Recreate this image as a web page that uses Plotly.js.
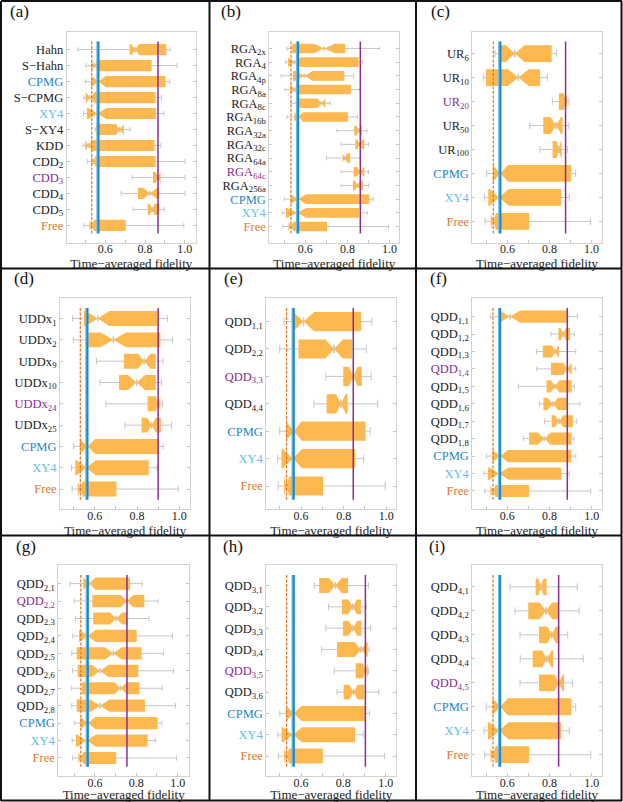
<!DOCTYPE html>
<html>
<head>
<meta charset="utf-8">
<script src="https://cdn.plot.ly/plotly-3.0.1.min.js"></script>
<style>html,body{margin:0;padding:0;background:#fff;}#chart{width:623px;height:802px;}</style>
</head>
<body>
<div id="chart"></div>
<script>
// ---------------- data ----------------
// panel (a)
const catsA = ['Hahn','S−Hahn','CPMG','S−CPMG','XY4','S−XY4','KDD','CDD<sub>2</sub>','CDD<sub>3</sub>','CDD<sub>4</sub>','CDD<sub>5</sub>','Free'];
const loA    = [0.462,0.503,0.500,0.491,0.490,0.550,0.488,0.510,0.735,0.680,0.740,0.493];
const q1A    = [0.723,0.530,0.530,0.501,0.508,0.555,0.499,0.530,0.840,0.764,0.814,0.520];
const medA   = [0.750,0.546,0.566,0.524,0.560,0.673,0.516,0.541,0.865,0.825,0.836,0.532];
const q3A    = [0.907,0.833,0.903,0.853,0.855,0.693,0.848,0.853,0.878,0.871,0.870,0.703];
const hiA    = [0.926,0.960,0.924,0.882,0.894,0.724,0.879,1.000,1.000,1.000,0.896,0.995];
const notchA = [0.020,0.016,0.036,0.023,0.045,0.020,0.017,0.011,0.012,0.035,0.012,0.012];
// panel (b)
const catsB = ['RGA<sub>2x</sub>','RGA<sub>4</sub>','RGA<sub>4p</sub>','RGA<sub>8a</sub>','RGA<sub>8c</sub>','RGA<sub>16b</sub>','RGA<sub>32a</sub>','RGA<sub>32c</sub>','RGA<sub>64a</sub>','RGA<sub>64c</sub>','RGA<sub>256a</sub>','CPMG','XY4','Free'];
const loB    = [0.513,0.507,0.485,0.504,0.532,0.513,0.750,0.770,0.700,0.770,0.770,0.500,0.490,0.493];
const q1B    = [0.537,0.518,0.541,0.529,0.555,0.548,0.832,0.837,0.777,0.829,0.826,0.530,0.508,0.520];
const medB   = [0.690,0.548,0.595,0.550,0.676,0.568,0.853,0.858,0.788,0.861,0.848,0.566,0.560,0.532];
const q3B    = [0.789,0.853,0.785,0.816,0.695,0.802,0.869,0.880,0.813,0.880,0.874,0.903,0.855,0.703];
const hiB    = [0.952,0.872,0.829,0.856,0.718,0.848,0.892,0.900,0.860,0.900,0.900,0.924,0.894,0.995];
const notchB = [0.050,0.030,0.040,0.021,0.019,0.020,0.010,0.012,0.011,0.015,0.012,0.036,0.045,0.012];
// panel (c)
const catsC = ['UR<sub>6</sub>','UR<sub>10</sub>','UR<sub>20</sub>','UR<sub>50</sub>','UR<sub>100</sub>','CPMG','XY4','Free'];
const loC    = [0.540,0.484,0.813,0.706,0.754,0.500,0.490,0.493];
const q1C    = [0.556,0.497,0.844,0.770,0.814,0.530,0.508,0.520];
const medC   = [0.635,0.651,0.876,0.830,0.844,0.566,0.560,0.532];
const q3C    = [0.810,0.754,0.884,0.862,0.857,0.903,0.855,0.703];
const hiC    = [0.833,0.789,0.892,0.892,0.886,0.924,0.894,0.995];
const notchC = [0.045,0.050,0.008,0.025,0.010,0.036,0.045,0.012];
// panel (d)
const catsD = ['UDDx<sub>1</sub>','UDDx<sub>2</sub>','UDDx<sub>9</sub>','UDDx<sub>10</sub>','UDDx<sub>24</sub>','UDDx<sub>25</sub>','CPMG','XY4','Free'];
const loD    = [0.496,0.499,0.609,0.625,0.653,0.743,0.500,0.490,0.493];
const q1D    = [0.549,0.570,0.738,0.715,0.850,0.822,0.530,0.508,0.520];
const medD   = [0.614,0.688,0.834,0.798,0.900,0.869,0.566,0.560,0.532];
const q3D    = [0.897,0.911,0.889,0.889,0.911,0.913,0.903,0.855,0.703];
const hiD    = [0.944,0.968,0.924,0.916,0.921,0.963,0.924,0.894,0.995];
const notchD = [0.055,0.060,0.030,0.040,0.011,0.020,0.036,0.045,0.012];
// panel (e)
const catsE = ['QDD<sub>1,1</sub>','QDD<sub>2,2</sub>','QDD<sub>3,3</sub>','QDD<sub>4,4</sub>','CPMG','XY4','Free'];
const loE    = [0.520,0.500,0.717,0.661,0.500,0.490,0.493];
const q1E    = [0.563,0.588,0.798,0.720,0.530,0.508,0.520];
const medE   = [0.612,0.755,0.845,0.787,0.566,0.560,0.532];
const q3E    = [0.882,0.839,0.885,0.818,0.903,0.855,0.703];
const hiE    = [0.932,0.906,0.929,0.960,0.924,0.894,0.995];
const notchE = [0.049,0.040,0.020,0.022,0.036,0.045,0.012];
// panel (f)
const catsF = ['QDD<sub>1,1</sub>','QDD<sub>1,2</sub>','QDD<sub>1,3</sub>','QDD<sub>1,4</sub>','QDD<sub>1,5</sub>','QDD<sub>1,6</sub>','QDD<sub>1,7</sub>','QDD<sub>1,8</sub>','CPMG','XY4','Free'];
const loF    = [0.520,0.807,0.739,0.739,0.652,0.752,0.776,0.676,0.500,0.490,0.493];
const q1F    = [0.563,0.842,0.768,0.807,0.786,0.771,0.810,0.703,0.530,0.508,0.520];
const medF   = [0.612,0.865,0.827,0.884,0.826,0.815,0.845,0.775,0.566,0.560,0.532];
const q3F    = [0.882,0.897,0.845,0.905,0.905,0.884,0.910,0.905,0.903,0.855,0.703];
const hiF    = [0.932,0.918,0.924,0.924,0.918,0.944,0.929,0.916,0.924,0.894,0.995];
const notchF = [0.049,0.012,0.015,0.020,0.020,0.025,0.020,0.030,0.036,0.045,0.012];
// panel (g)
const catsG = ['QDD<sub>2,1</sub>','QDD<sub>2,2</sub>','QDD<sub>2,3</sub>','QDD<sub>2,4</sub>','QDD<sub>2,5</sub>','QDD<sub>2,6</sub>','QDD<sub>2,7</sub>','QDD<sub>2,8</sub>','CPMG','XY4','Free'];
const loG    = [0.480,0.500,0.506,0.493,0.488,0.491,0.488,0.488,0.500,0.490,0.493];
const q1G    = [0.544,0.588,0.592,0.523,0.512,0.517,0.536,0.512,0.530,0.508,0.520];
const medG   = [0.573,0.755,0.702,0.564,0.689,0.625,0.724,0.625,0.566,0.560,0.532];
const q3G    = [0.770,0.839,0.757,0.802,0.826,0.810,0.815,0.842,0.903,0.855,0.703];
const hiG    = [0.829,0.906,0.861,0.975,0.931,0.980,0.926,0.990,0.924,0.894,0.995];
const notchG = [0.029,0.030,0.030,0.040,0.040,0.040,0.030,0.045,0.036,0.045,0.012];
// panel (h)
const catsH = ['QDD<sub>3,1</sub>','QDD<sub>3,2</sub>','QDD<sub>3,3</sub>','QDD<sub>3,4</sub>','QDD<sub>3,5</sub>','QDD<sub>3,6</sub>','CPMG','XY4','Free'];
const loH    = [0.663,0.730,0.717,0.697,0.757,0.770,0.500,0.490,0.493];
const q1H    = [0.686,0.793,0.798,0.770,0.858,0.801,0.530,0.508,0.520];
const medH   = [0.762,0.844,0.845,0.883,0.904,0.848,0.566,0.560,0.532];
const q3H    = [0.822,0.883,0.885,0.915,0.915,0.899,0.903,0.855,0.703];
const hiH    = [0.919,0.908,0.929,0.922,0.919,0.967,0.924,0.894,0.995];
const notchH = [0.030,0.020,0.020,0.030,0.011,0.020,0.036,0.045,0.012];
// panel (i)
const catsI = ['QDD<sub>4,1</sub>','QDD<sub>4,2</sub>','QDD<sub>4,3</sub>','QDD<sub>4,4</sub>','QDD<sub>4,5</sub>','CPMG','XY4','Free'];
const loI    = [0.613,0.636,0.660,0.661,0.660,0.500,0.490,0.493];
const q1I    = [0.734,0.699,0.750,0.720,0.750,0.530,0.508,0.520];
const medI   = [0.759,0.783,0.810,0.787,0.843,0.566,0.560,0.532];
const q3I    = [0.786,0.842,0.846,0.818,0.869,0.903,0.855,0.703];
const hiI    = [0.931,0.940,0.886,0.960,0.909,0.924,0.894,0.995];
const notchI = [0.012,0.030,0.020,0.022,0.020,0.036,0.045,0.012];
// best sequence (purple) in each panel
const bestNames = ['CDD<sub>3</sub>','RGA<sub>64c</sub>','UR<sub>20</sub>','UDDx<sub>24</sub>','QDD<sub>3,3</sub>','QDD<sub>1,4</sub>','QDD<sub>2,2</sub>','QDD<sub>3,5</sub>','QDD<sub>4,5</sub>'];
const panelTags = ['(a)','(b)','(c)','(d)','(e)','(f)','(g)','(h)','(i)'];
const xTickVals = [0.5,0.6,0.7,0.8,0.9,1.0];
const xTickText = ['','0.6','','0.8','','1.0'];
const xTitle = 'Time−averaged fidelity';

// ---------------- layout geometry ----------------
const W = 623, H = 802;
const FONT = 'Liberation Serif, DejaVu Serif, serif';
const C_BOX = '#fdb94f', C_WHISK = '#c6c6c6';
const C_CPMG = '#1f86c6', C_XY4 = '#62bdf0', C_FREE = '#e2782c', C_BEST = '#8e2c96', C_DASH = '#e8731c';

const panels = [
  {cats:catsA, lo:loA, q1:q1A, med:medA, q3:q3A, hi:hiA, n:notchA, xr:[0.406,1.056], px:[66.7,196],   py:[32,243]},
  {cats:catsB, lo:loB, q1:q1B, med:medB, q3:q3B, hi:hiB, n:notchB, xr:[0.429,1.046], px:[269.3,399.3], py:[32,243]},
  {cats:catsC, lo:loC, q1:q1C, med:medC, q3:q3C, hi:hiC, n:notchC, xr:[0.432,1.048], px:[472.3,601.7], py:[32,243]},
  {cats:catsD, lo:loD, q1:q1D, med:medD, q3:q3D, hi:hiD, n:notchD, xr:[0.436,1.052], px:[60,190.3],    py:[298.3,509.3]},
  {cats:catsE, lo:loE, q1:q1E, med:medE, q3:q3E, hi:hiE, n:notchE, xr:[0.437,1.047], px:[266.3,396.3], py:[298.3,509.3]},
  {cats:catsF, lo:loF, q1:q1F, med:medF, q3:q3F, hi:hiF, n:notchF, xr:[0.434,1.047], px:[472.3,601.7], py:[298.3,509.3]},
  {cats:catsG, lo:loG, q1:q1G, med:medG, q3:q3G, hi:hiG, n:notchG, xr:[0.423,1.055], px:[58.3,189],    py:[565.3,776.3]},
  {cats:catsH, lo:loH, q1:q1H, med:medH, q3:q3H, hi:hiH, n:notchH, xr:[0.436,1.050], px:[266.3,396.3], py:[565.3,776.3]},
  {cats:catsI, lo:loI, q1:q1I, med:medI, q3:q3I, hi:hiI, n:notchI, xr:[0.434,1.047], px:[472.3,601.7], py:[565.3,776.3]}
];
const tagPos = [[20,12],[231,12],[440,12],[24,278],[233,278],[438,278],[26,546],[233,546],[437,546]];

const data = [];
const layout = {
  width: W, height: H,
  margin: {l:0, r:0, t:0, b:0, pad:0},
  paper_bgcolor: '#fff', plot_bgcolor: '#fff',
  showlegend: false,
  boxmode: 'overlay',
  font: {family: FONT, size: 12, color: '#222'},
  shapes: [], annotations: []
};

function labelColor(name, best) {
  if (name === 'CPMG') return C_CPMG;
  if (name === 'XY4') return C_XY4;
  if (name === 'Free') return C_FREE;
  if (name === best) return C_BEST;
  return '#222';
}

panels.forEach((p, i) => {
  const k = i + 1;
  const xa = k === 1 ? 'x' : 'x' + k;
  const ya = k === 1 ? 'y' : 'y' + k;
  const best = bestNames[i];
  const nc = p.cats.length;

  // whiskers (gray): a collapsed box at the median, hidden under the orange box
  data.push({
    type: 'box', orientation: 'h', xaxis: xa, yaxis: ya,
    y: p.cats, q1: p.med, median: p.med, q3: p.med,
    lowerfence: p.lo, upperfence: p.hi,
    boxpoints: false, width: 0.3, whiskerwidth: 1,
    line: {color: C_WHISK, width: 1}, fillcolor: 'rgba(0,0,0,0)',
    hoverinfo: 'skip'
  });
  // notched boxes (orange, no outline)
  data.push({
    type: 'box', orientation: 'h', xaxis: xa, yaxis: ya,
    y: p.cats, q1: p.q1, median: p.med, q3: p.q3,
    lowerfence: p.q1, upperfence: p.q3, notchspan: p.n,
    notched: true, notchwidth: 0.5, boxpoints: false,
    width: 0.7, whiskerwidth: 0,
    line: {color: C_BOX, width: 0}, fillcolor: C_BOX,
    hoverinfo: 'skip'
  });

  const axKey = k === 1 ? '' : String(k);
  layout['xaxis' + axKey] = {
    domain: [p.px[0] / W, p.px[1] / W],
    anchor: ya, range: p.xr,
    tickmode: 'array', tickvals: xTickVals, ticktext: xTickText,
    ticks: 'inside', ticklen: 3, tickcolor: '#c8c8c8', tickwidth: 1,
    ticklabelstandoff: -5,
    showline: true, mirror: true, linecolor: '#d2d2d2', linewidth: 1,
    showgrid: false, zeroline: false,
    tickfont: {family: FONT, size: 12, color: '#222'},
    title: {text: xTitle, font: {family: FONT, size: 13, color: '#222'}, standoff: 0},
    fixedrange: true
  };
  layout['yaxis' + axKey] = {
    domain: [1 - p.py[1] / H, 1 - p.py[0] / H],
    anchor: xa, type: 'category',
    categoryorder: 'array', categoryarray: p.cats,
    tickmode: 'array', tickvals: p.cats,
    ticktext: p.cats.map(c => '<span style="color:' + labelColor(c, best) + '">' + c + '</span>'),
    range: [nc - 0.5 + 0.05 * nc, -0.5 - 0.05 * nc],
    ticks: 'inside', ticklen: 3, tickcolor: '#c8c8c8', tickwidth: 1,
    showline: true, mirror: 'ticks', linecolor: '#d2d2d2', linewidth: 1,
    showgrid: false, zeroline: false,
    tickfont: {family: FONT, size: 12.5, color: '#222'},
    fixedrange: true
  };

  // reference lines from medians
  const iFree = p.cats.indexOf('Free'), iCP = p.cats.indexOf('CPMG'), iXY = p.cats.indexOf('XY4'), iB = p.cats.indexOf(best);
  const vline = (x, color, width, dash) => ({
    type: 'line', xref: xa, yref: ya, x0: x, x1: x, y0: -0.5, y1: nc - 0.5,
    line: {color: color, width: width, dash: dash || 'solid'}, layer: 'above'
  });
  layout.shapes.push(vline(p.med[iFree], C_DASH, 1.2, '3px,1.5px'));
  layout.shapes.push(vline(p.med[iXY], C_XY4, 2));
  layout.shapes.push(vline(p.med[iCP], C_CPMG, 2));
  layout.shapes.push(vline(p.med[iB], C_BEST, 1.5));

  layout.annotations.push({
    xref: 'paper', yref: 'paper', x: tagPos[i][0] / W, y: 1 - tagPos[i][1] / H,
    xanchor: 'center', yanchor: 'middle', showarrow: false,
    text: panelTags[i], font: {family: FONT, size: 17, color: '#111'}
  });
});

// sub-figure frames
const frame = (x0, y0, x1, y1) => ({type: 'line', xref: 'paper', yref: 'paper',
  x0: x0 / W, x1: x1 / W, y0: 1 - y0 / H, y1: 1 - y1 / H, line: {color: '#111', width: 2}, layer: 'above'});
layout.shapes.push(frame(1, 1, 622, 1));
layout.shapes.push(frame(1, 800.5, 622, 800.5));
layout.shapes.push(frame(1, 1, 1, 801));
layout.shapes.push(frame(621.5, 1, 621.5, 801));
layout.shapes.push(frame(209.5, 1, 209.5, 801));
layout.shapes.push(frame(416, 1, 416, 801));
layout.shapes.push(frame(1, 268.5, 622, 268.5));
layout.shapes.push(frame(1, 535.5, 622, 535.5));

Plotly.newPlot('chart', data, layout, {staticPlot: true, displayModeBar: false});
</script>
</body>
</html>
